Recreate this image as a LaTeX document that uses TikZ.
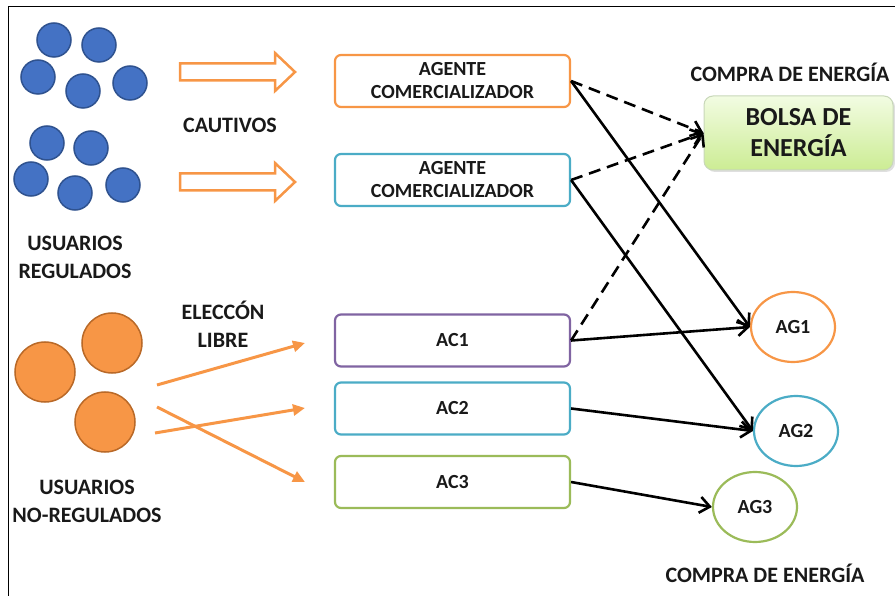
\documentclass[tikz,border=0pt]{standalone}
\usepackage{fontspec}
\setmainfont{Carlito}
\usetikzlibrary{positioning,shapes.geometric,arrows.meta,shadows}
\definecolor{regBlue}{RGB}{68,114,196}
\definecolor{regBlueLine}{RGB}{47,82,143}
\definecolor{freeOrange}{RGB}{247,150,70}
\definecolor{freeOrangeLine}{RGB}{185,105,40}
\definecolor{agentTeal}{RGB}{75,172,198}
\definecolor{agentPurple}{RGB}{128,100,162}
\definecolor{agentGreen}{RGB}{155,187,89}
\definecolor{bolsaTop}{RGB}{242,252,226}
\definecolor{bolsaBottom}{RGB}{204,236,148}
\definecolor{bolsaLine}{RGB}{200,215,185}
\definecolor{textDark}{RGB}{25,25,25}
\tikzstyle{diagram} = [x=1pt, y=-1pt]
\tikzstyle{regUser} = [circle, draw=regBlueLine, fill=regBlue, line width=1.5pt, minimum size=34pt, inner sep=0pt]
\tikzstyle{freeUser} = [circle, draw=freeOrangeLine, fill=freeOrange, line width=1.5pt, minimum size=60pt, inner sep=0pt]
\tikzstyle{agentBox} = [draw, fill=white, rounded corners=6pt, line width=2.2pt, minimum width=235pt, minimum height=52pt, align=center, text=textDark, font=\fontsize{20}{23}\selectfont\bfseries]
\tikzstyle{genBox} = [ellipse, draw, fill=white, line width=2.2pt, minimum width=84pt, minimum height=70pt, inner sep=0pt, text=textDark, font=\fontsize{20}{23}\selectfont\bfseries]
\tikzstyle{bolsaBox} = [draw=bolsaLine, top color=bolsaTop, bottom color=bolsaBottom, rounded corners=9pt, line width=1pt, minimum width=189pt, minimum height=74pt, align=center, text=textDark, font=\fontsize{26}{31}\selectfont\bfseries, drop shadow={opacity=.25, shadow xshift=2pt, shadow yshift=-2pt}]
\tikzstyle{mainLabel} = [align=center, text=textDark, font=\fontsize{22}{28}\selectfont\bfseries]
\tikzstyle{supplyLine} = [-{Straight Barb[length=10pt,width=16pt,line width=2.6pt]}, line width=2.6pt]
\tikzstyle{poolLine} = [supplyLine, dash pattern=on 12pt off 7pt]
\tikzstyle{choiceLine} = [-{Triangle[length=12pt,width=11pt]}, freeOrange, line width=3pt]
\tikzstyle{hollowArrowStyle} = [draw=freeOrange, fill=white, line width=2.5pt, line join=miter]
\newcommand{\hollowArrow}[2]{\draw [hollowArrowStyle] (#1,#2-8.5) -- (#1+95,#2-8.5) -- (#1+95,#2-19) -- (#1+115,#2) -- (#1+95,#2+19) -- (#1+95,#2+8.5) -- (#1,#2+8.5) -- cycle;}
\begin{document}
\begin{tikzpicture}[diagram]
\useasboundingbox (0,0) rectangle (895,596);
\draw [line width=1pt] (8,596) -- (8,7) -- (895,7);
% usuarios regulados
\foreach \x/\y [count=\i] in {54/40, 99/45, 38/77, 83/91, 130/83} \node [regUser] (regA\i) at (\x,\y) {};
\foreach \x/\y [count=\i] in {47/143, 91/148, 31/179, 75/193, 123/185} \node [regUser] (regB\i) at (\x,\y) {};
\node [mainLabel] (regLabel) at (75,257) {USUARIOS\\REGULADOS};
\hollowArrow{180}{72}
\hollowArrow{180}{182}
\node [mainLabel] (cautivos) at (230,125) {CAUTIVOS};
% usuarios no regulados
\foreach \x/\y [count=\i] in {112/343, 45/372, 105/422} \node [freeUser] (free\i) at (\x,\y) {};
\node [mainLabel] (freeLabel) at (87,501) {USUARIOS\\NO-REGULADOS};
\node [mainLabel] (eleccion) at (223,324) {ELECCÓN\\LIBRE};
% agentes
\node [agentBox, draw=freeOrange] (comA) at (452.5,81) {AGENTE\\COMERCIALIZADOR};
\node [agentBox, draw=agentTeal] (comB) at (452.5,180) {AGENTE\\COMERCIALIZADOR};
\node [agentBox, draw=agentPurple] (ac1) at (452.5,340.5) {AC1};
\node [agentBox, draw=agentTeal] (ac2) at (452.5,408.5) {AC2};
\node [agentBox, draw=agentGreen] (ac3) at (452.5,482) {AC3};
% generadores y bolsa
\node [bolsaBox] (bolsa) at (798.5,133) {BOLSA DE\\ENERGÍA};
\node [mainLabel] (compraTop) at (790,72) {COMPRA  DE ENERGÍA};
\node [genBox, draw=freeOrange] (ag1) at (793,327) {AG1};
\node [genBox, draw=agentTeal] (ag2) at (796,431) {AG2};
\node [genBox, draw=agentGreen] (ag3) at (755,507) {AG3};
\node [mainLabel] (compraBottom) at (765,573) {COMPRA  DE ENERGÍA};
% eleccion libre
\coordinate (startA) at (157,385); \coordinate (endA) at (305,343);
\coordinate (startB) at (155,433); \coordinate (endB) at (305,408);
\coordinate (startC) at (157,407); \coordinate (endC) at (305,482);
\draw [choiceLine] (startA) -- (endA);
\draw [choiceLine] (startB) -- (endB);
\draw [choiceLine] (startC) -- (endC);
% compras
\draw [poolLine] (comA.east) -- (bolsa.west);
\draw [poolLine] (comB.east) -- (bolsa.west);
\draw [poolLine] (ac1.east) -- (bolsa.west);
\draw [supplyLine] (comA.east) -- (ag1.west);
\draw [supplyLine] (comB.east) -- (ag2.west);
\draw [supplyLine] (ac1.east) -- (ag1.west);
\draw [supplyLine] (ac2.east) -- (ag2.west);
\draw [supplyLine] (ac3.east) -- (ag3.west);
\end{tikzpicture}
\end{document}
